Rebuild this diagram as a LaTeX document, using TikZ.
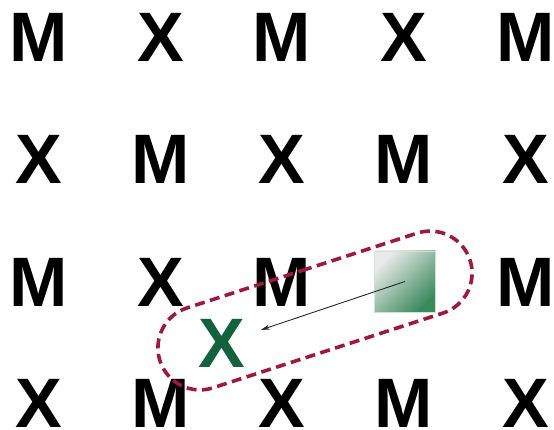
\documentclass[tikz,border=0pt]{standalone}
\usepackage{fontspec}
\setmainfont{Liberation Sans}
\usetikzlibrary{arrows.meta,shapes.misc}
\definecolor{gxgreen}{HTML}{13613D}
\definecolor{sqgreen}{HTML}{3A8A5C}
\definecolor{sqlight}{HTML}{EAEAEA}
\definecolor{loopred}{HTML}{9E1A3C}
\tikzset{
  letter/.style={inner sep=0pt, font=\bfseries\fontsize{70}{70}\selectfont},
  target/.style={letter, text=gxgreen},
  gradsq/.style={minimum size=61pt, inner sep=0pt, shading=axis, top color=sqlight, bottom color=sqgreen, shading angle=45, draw=sqgreen!25, line width=0.8pt},
  loop/.style={rounded rectangle, draw=loopred, line width=3.6pt, dash pattern=on 10pt off 5.5pt, minimum width=326pt, minimum height=84pt, inner sep=0pt},
  link/.style={-{Stealth[length=9pt,width=5pt]}, line width=0.9pt, draw=black!85}
}
\begin{document}
\begin{tikzpicture}[x=1pt,y=-1pt]
\useasboundingbox (0,0) rectangle (554,430);
% row 1
\node[letter] (a1) at (38.5,37) {M};
\node[letter] (a2) at (160.5,37) {X};
\node[letter] (a3) at (282,37) {M};
\node[letter] (a4) at (404,37) {X};
\node[letter] (a5) at (526,37) {M};
% row 2
\node[letter] (b1) at (38.5,159) {X};
\node[letter] (b2) at (160.5,159) {M};
\node[letter] (b3) at (282,159) {X};
\node[letter] (b4) at (404,159) {M};
\node[letter] (b5) at (526,159) {X};
% row 3
\node[letter] (c1) at (38.5,282) {M};
\node[letter] (c2) at (160.5,282) {X};
\node[letter] (c3) at (282,282) {M};
\node[gradsq] (sq) at (405,281.5) {};
\node[letter] (c5) at (526,282) {M};
% row 4
\node[letter] (d1) at (38.5,403.5) {X};
\node[letter] (d2) at (160.5,403.5) {M};
\node[letter] (d3) at (282,403.5) {X};
\node[letter] (d4) at (404,403.5) {M};
\node[letter] (d5) at (526,403.5) {X};
% target
\node[target] (gx) at (222,343) {X};
% loop
\node[loop, rotate=18] (lp) at (315,310.5) {};
% arrow
\draw[link, shorten >=41pt] (sq.center) -- (gx.center);
\end{tikzpicture}
\end{document}
